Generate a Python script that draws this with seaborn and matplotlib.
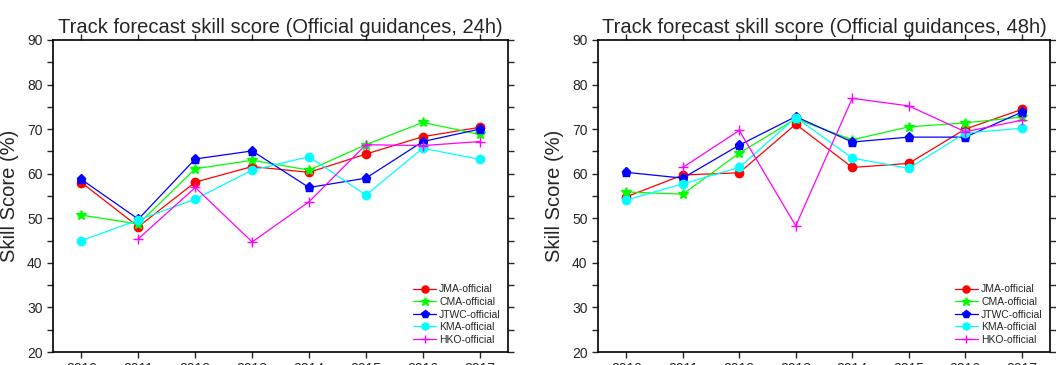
import matplotlib
matplotlib.use("Agg")
import matplotlib.pyplot as plt
from matplotlib.ticker import MultipleLocator
import numpy as np
import pandas as pd
import seaborn as sns

years = [2010, 2011, 2012, 2013, 2014, 2015, 2016, 2017]
agencies = ["JMA-official", "CMA-official", "JTWC-official", "KMA-official", "HKO-official"]

# 24h skill scores (%)
jma_24 = [58.0, 48.1, 58.1, 61.6, 60.3, 64.4, 68.3, 70.4]
cma_24 = [50.7, 48.7, 61.1, 63.0, 60.8, 66.5, 71.5, 68.8]
jtwc_24 = [58.7, 49.8, 63.3, 65.1, 56.9, 59.0, 67.2, 70.0]
kma_24 = [45.0, 49.6, 54.3, 60.8, 63.8, 55.2, 65.7, 63.2]
hko_24 = [np.nan, 45.4, 56.9, 44.7, 53.7, 66.5, 66.3, 67.2]

# 48h skill scores (%)
jma_48 = [54.8, 59.7, 60.2, 71.1, 61.4, 62.3, 70.0, 74.4]
cma_48 = [55.9, 55.4, 64.6, 72.3, 67.6, 70.5, 71.4, 72.7]
jtwc_48 = [60.3, 59.0, 66.4, 72.8, 67.1, 68.2, 68.2, 73.8]
kma_48 = [54.1, 57.7, 61.4, 72.6, 63.5, 61.2, 69.1, 70.2]
hko_48 = [np.nan, 61.4, 69.7, 48.3, 76.9, 75.2, 69.4, 72.0]

colors = ["#ff0000", "#00ff00", "#0000ff", "#00ffff", "#ff00ff"]
markers = ["o", "*", "p", "o", "+"]
msizes = [6, 7.5, 6.5, 6, 7]

sns.set_style("white")
plt.rcParams["font.family"] = ["Liberation Sans", "DejaVu Sans"]

fig = plt.figure(figsize=(10.56, 3.65), dpi=100)
ax1 = fig.add_axes([0.0502, 0.0356, 0.431, 0.855])
ax2 = fig.add_axes([0.5663, 0.0356, 0.428, 0.855])

panels = [
    (ax1, [jma_24, cma_24, jtwc_24, kma_24, hko_24], "Track forecast skill score (Official guidances, 24h)"),
    (ax2, [jma_48, cma_48, jtwc_48, kma_48, hko_48], "Track forecast skill score (Official guidances, 48h)"),
]

for ax, series, title in panels:
    for name, vals, c, m, ms in zip(agencies, series, colors, markers, msizes):
        df = pd.DataFrame({"year": years, "score": vals}).dropna()
        sns.lineplot(data=df, x="year", y="score", ax=ax, color=c, marker=m,
                     markersize=ms, markeredgecolor=c, markeredgewidth=1,
                     linewidth=0.9, label=name)
    ax.set_xlim(2009.5, 2017.5)
    ax.set_ylim(20, 90)
    ax.set_xticks(years)
    ax.yaxis.set_major_locator(MultipleLocator(10))
    ax.yaxis.set_minor_locator(MultipleLocator(5))
    ax.tick_params(axis="both", which="both", direction="out", length=4, width=1,
                   labelsize=10, top=True, right=True, left=True, bottom=True,
                   labeltop=False, labelright=False)
    for s in ax.spines.values():
        s.set_linewidth(1.2)
        s.set_color("black")
    ax.set_xlabel("")
    ax.set_ylabel("Skill Score (%)", fontsize=14.5, labelpad=6)
    ax.set_title(title, fontsize=14.5, pad=5)
    ax.legend(loc="lower right", frameon=False, fontsize=7.5, handlelength=2.2,
              labelspacing=0.25, handletextpad=0.3, borderaxespad=0.3,
              markerscale=0.85)

fig.savefig("out.png", dpi=100)
